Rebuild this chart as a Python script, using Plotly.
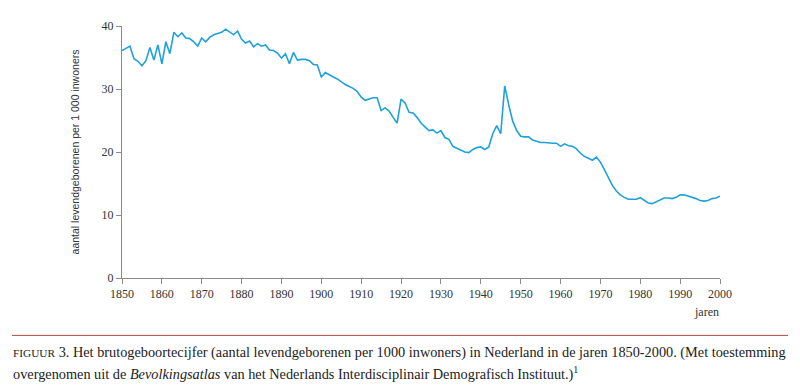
import plotly.graph_objects as go

years = list(range(1850, 2001))
birth_rate = [
    36.1, 36.5, 36.8, 34.8, 34.4, 33.7, 34.5, 36.6, 34.6, 37.0,   # 1850-1859
    34.0, 37.5, 35.6, 39.0, 38.3, 38.9, 38.1, 38.0, 37.5, 36.8,   # 1860-1869
    38.1, 37.5, 38.2, 38.6, 38.8, 39.0, 39.5, 39.0, 38.6, 39.2,   # 1870-1879
    37.9, 37.3, 37.6, 36.7, 37.2, 36.8, 37.0, 36.2, 36.1, 35.7,   # 1880-1889
    34.9, 35.6, 34.0, 35.8, 34.6, 34.7, 34.7, 34.5, 33.9, 33.8,   # 1890-1899
    31.9, 32.6, 32.2, 31.9, 31.6, 31.1, 30.7, 30.4, 30.1, 29.6,   # 1900-1909
    28.7, 28.2, 28.4, 28.6, 28.6, 26.6, 27.0, 26.5, 25.5, 24.6,   # 1910-1919
    28.4, 27.8, 26.3, 26.2, 25.5, 24.6, 24.0, 23.4, 23.5, 23.0,   # 1920-1929
    23.4, 22.3, 22.0, 20.9, 20.6, 20.3, 20.0, 19.9, 20.4, 20.7,   # 1930-1939
    20.8, 20.4, 20.8, 22.9, 24.2, 22.9, 30.5, 27.5, 24.9, 23.4,   # 1940-1949
    22.5, 22.4, 22.4, 21.9, 21.7, 21.5, 21.5, 21.4, 21.4, 21.4,   # 1950-1959
    20.9, 21.3, 21.0, 20.9, 20.5, 19.8, 19.3, 19.0, 18.7, 19.2,   # 1960-1969
    18.4, 17.2, 15.9, 14.7, 13.8, 13.2, 12.8, 12.5, 12.5, 12.5,   # 1970-1979
    12.75, 12.3, 11.9, 11.8, 12.1, 12.4, 12.7, 12.7, 12.6, 12.8,  # 1980-1989
    13.2, 13.2, 13.0, 12.9, 12.6, 12.3, 12.2, 12.3, 12.6, 12.7,   # 1990-1999
    13.0,                                                          # 2000
]

x_ticks = list(range(1850, 2001, 10))
y_ticks = [0, 10, 20, 30, 40]

y_title = "aantal levendgeborenen per 1 000 inwoners"
x_title = "jaren"
caption_1 = ("<span style='font-size:11.3px'>FIGUUR</span> 3. Het brutogeboortecijfer (aantal levendgeborenen per 1000 inwoners) "
             "in Nederland in de jaren 1850-2000. (Met toestemming")
caption_2 = ("overgenomen uit de <i>Bevolkingsatlas</i> van het Nederlands Interdisciplinair "
             "Demografisch Instituut.)<sup>1</sup>")

# page body has an 8px default margin: work in window pixels, shift by OFF
OFF = 8
W, H = 800 - OFF, 389 - OFF
L, R, T, B = 122 - OFF, 80, 19 - OFF, 111
pw = W - L - R
ph = H - T - B

def px_to_paper_x(px):
    return (px - OFF - L) / pw

def px_to_paper_y(py):
    return (H - B - (py - OFF)) / ph

fig = go.Figure()
fig.add_trace(go.Scatter(
    x=years, y=birth_rate, mode="lines",
    line=dict(color="#1fa2dc", width=1.6),
    hoverinfo="skip", showlegend=False,
))

serif = "Liberation Serif"
axis_col = "#8a8a8a"

fig.update_layout(
    width=W, height=H,
    margin=dict(l=L, r=R, t=T, b=B),
    paper_bgcolor="white", plot_bgcolor="white",
    showlegend=False,
    xaxis=dict(
        range=[1850, 2000], tickvals=x_ticks, ticktext=[str(v) for v in x_ticks],
        showgrid=False, zeroline=False, showline=True, linecolor=axis_col, linewidth=1,
        ticks="outside", ticklen=5, tickcolor=axis_col, tickwidth=1,
        tickfont=dict(family=serif, size=12, color="#333333"),
    ),
    yaxis=dict(
        range=[0, 40], tickvals=y_ticks, ticktext=[str(v) for v in y_ticks],
        showgrid=False, zeroline=False, showline=True, linecolor=axis_col, linewidth=1,
        ticks="outside", ticklen=5, tickcolor=axis_col, tickwidth=1,
        tickfont=dict(family=serif, size=12, color="#333333"),
        title=dict(text=y_title, font=dict(family="Liberation Sans", size=10.5, color="#333333"),
                   standoff=19),
    ),
)

fig.add_annotation(
    text=x_title, xref="paper", yref="paper",
    x=px_to_paper_x(706), y=px_to_paper_y(313),
    xanchor="center", yanchor="middle", showarrow=False,
    font=dict(family=serif, size=12, color="#333333"),
)

fig.add_shape(
    type="line", xref="paper", yref="paper",
    x0=px_to_paper_x(12), x1=px_to_paper_x(788),
    y0=px_to_paper_y(337), y1=px_to_paper_y(337),
    line=dict(color="#b5474a", width=1),
)

fig.add_annotation(
    text=caption_1, xref="paper", yref="paper",
    x=px_to_paper_x(11), y=px_to_paper_y(355),
    xanchor="left", yanchor="middle", showarrow=False, align="left",
    font=dict(family=serif, size=14.3, color="#222222"),
)
fig.add_annotation(
    text=caption_2, xref="paper", yref="paper",
    x=px_to_paper_x(11), y=px_to_paper_y(376),
    xanchor="left", yanchor="middle", showarrow=False, align="left",
    font=dict(family=serif, size=14.3, color="#222222"),
)

fig.write_html("out.html")
